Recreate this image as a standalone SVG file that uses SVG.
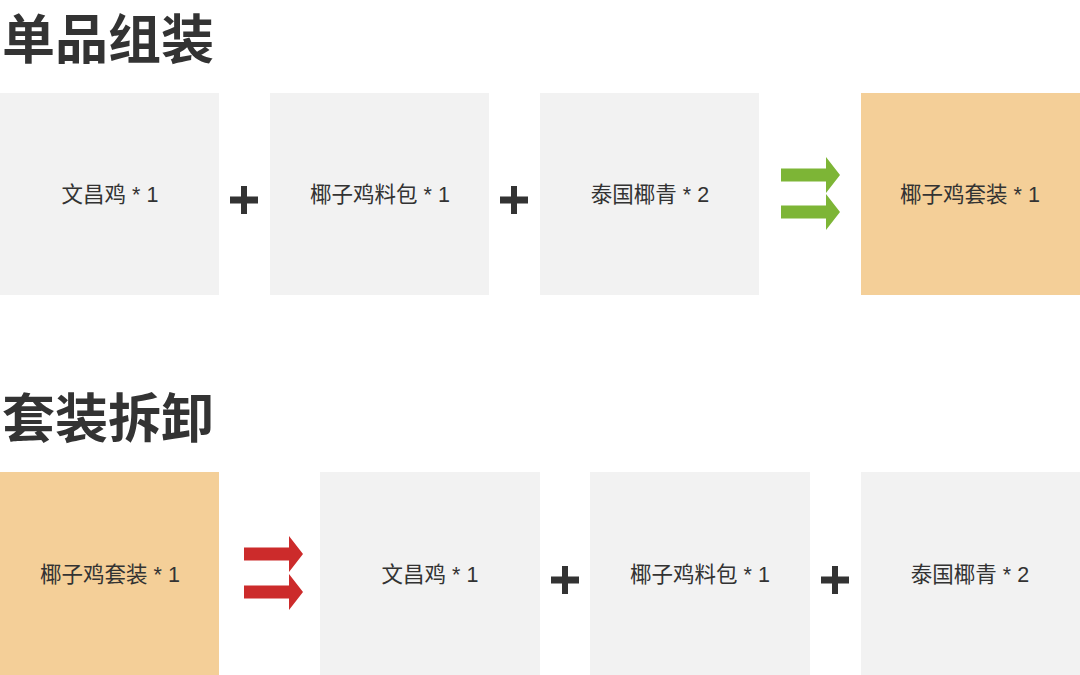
<svg xmlns="http://www.w3.org/2000/svg" width="1080" height="675" viewBox="0 0 1080 675">
<style>
.h{font-family:"Noto Sans CJK SC","Noto Sans",sans-serif;font-weight:bold;font-size:53px;fill:#333}
.l{font-family:"Liberation Sans","Noto Sans CJK SC",sans-serif;font-size:21.5px;fill:#333;text-anchor:middle;dominant-baseline:central}
.g{fill:#f2f2f2}
.o{fill:#f4cf98}
.p{fill:#333}
</style>
<defs>
<path id="plus" d="M-14,-3.5H-3V-14H3V-3.5H14V3.5H3V14H-3V3.5H-14Z"/>
<path id="arr" d="M0,-6.5H45V-18L59,0L45,18V6.5H0Z"/>
</defs>
<rect width="1080" height="675" fill="#fff"/>
<text class="h" x="2" y="59">单品组装</text>
<text class="h" x="2" y="438">套装拆卸</text>
<g id="n1"><rect class="g" x="0" y="93" width="219" height="202"/><text class="l" x="110" y="195">文昌鸡 * 1</text></g>
<g id="n2"><rect class="g" x="270" y="93" width="219" height="202"/><text class="l" x="380" y="195">椰子鸡料包 * 1</text></g>
<g id="n3"><rect class="g" x="540" y="93" width="219" height="202"/><text class="l" x="650" y="195">泰国椰青 * 2</text></g>
<g id="n4"><rect class="o" x="861" y="93" width="219" height="202"/><text class="l" x="970" y="195">椰子鸡套装 * 1</text></g>
<g id="m1"><rect class="o" x="0" y="472" width="219" height="203"/><text class="l" x="110" y="575">椰子鸡套装 * 1</text></g>
<g id="m2"><rect class="g" x="320" y="472" width="220" height="203"/><text class="l" x="430" y="575">文昌鸡 * 1</text></g>
<g id="m3"><rect class="g" x="590" y="472" width="220" height="203"/><text class="l" x="700" y="575">椰子鸡料包 * 1</text></g>
<g id="m4"><rect class="g" x="861" y="472" width="219" height="203"/><text class="l" x="970" y="575">泰国椰青 * 2</text></g>
<g id="connectors">
<use href="#plus" class="p" x="244" y="200"/>
<use href="#plus" class="p" x="514" y="200"/>
<use href="#plus" class="p" x="565" y="580"/>
<use href="#plus" class="p" x="835" y="580"/>
<use href="#arr" fill="#7db536" x="781" y="175"/>
<use href="#arr" fill="#7db536" x="781" y="212"/>
<use href="#arr" fill="#cc2b2b" x="244" y="554"/>
<use href="#arr" fill="#cc2b2b" x="244" y="592"/>
</g>
</svg>
